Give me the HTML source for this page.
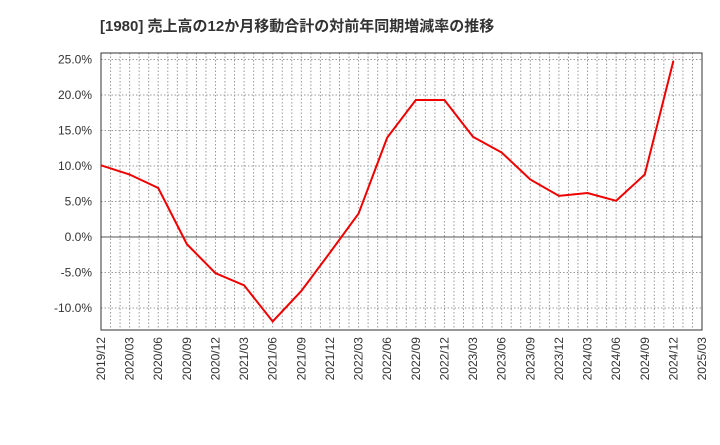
<!DOCTYPE html>
<html><head><meta charset="utf-8"><style>
body{margin:0;background:#fff;font-family:"Liberation Sans","Noto Sans CJK JP",sans-serif}
</style></head><body>
<svg id="c" width="720" height="440" xmlns="http://www.w3.org/2000/svg">
<text x="100" y="31" font-size="15" font-weight="bold" fill="#333" font-family="Liberation Sans, Noto Sans CJK JP, sans-serif">[1980]  売上高の12か月移動合計の対前年同期増減率の推移</text>
<g id="grid"></g><g id="axes"></g><g id="series"></g>
</svg>
<script>
const categories=["2019/12","2020/03","2020/06","2020/09","2020/12","2021/03","2021/06","2021/09","2021/12","2022/03","2022/06","2022/09","2022/12","2023/03","2023/06","2023/09","2023/12","2024/03","2024/06","2024/09","2024/12","2025/03"];
const values=[10.1,8.8,6.9,-1.0,-5.1,-6.8,-11.9,-7.6,-2.2,3.3,14.0,19.3,19.3,14.1,11.9,8.1,5.8,6.2,5.1,8.8,24.8];
const yTicks=[25,20,15,10,5,0,-5,-10];
const NS="http://www.w3.org/2000/svg";
const L=101,R=702,T=53,B=330;
const x=i=>L+(R-L)*i/(categories.length-1);
const y=v=>237-v*7.1;
function mk(tag,attrs,parent){const e=document.createElementNS(NS,tag);for(const k in attrs)e.setAttribute(k,attrs[k]);document.getElementById(parent).appendChild(e);return e;}
for(let m=0;m<=(categories.length-1)*3;m++){
  const xx=L+(R-L)*m/((categories.length-1)*3);
  const g=mk('line',{x1:xx,x2:xx,y1:T,y2:B,stroke:'#999','stroke-dasharray':'1.5,2','stroke-width':1},'grid');
  
  
}
yTicks.forEach(t=>{
  const g=mk('line',{x1:L,x2:R,y1:y(t),y2:y(t),stroke:t===0?'#555':'#999','stroke-dasharray':t===0?'':'1.5,2','stroke-width':1},'grid');
  
  
  const tx=mk('text',{x:92,y:y(t)+4,'text-anchor':'end','font-size':12,fill:'#333'},'axes');
  tx.textContent=t.toFixed(1)+'%';
  
  
});
const fr=mk('rect',{x:L,y:T,width:R-L,height:B-T,fill:'none',stroke:'#333','stroke-width':1},'axes');


categories.forEach((c,i)=>{
  const tx=mk('text',{x:0,y:0,'text-anchor':'end','font-size':12,fill:'#333',transform:`translate(${x(i)+4},${B+7}) rotate(-90)`},'axes');
  tx.textContent=c;
  
  
});
const p=mk('polyline',{points:values.map((v,i)=>x(i)+','+y(v)).join(' '),fill:'none',stroke:'#e00','stroke-width':2},'series');


</script>
</body></html>
